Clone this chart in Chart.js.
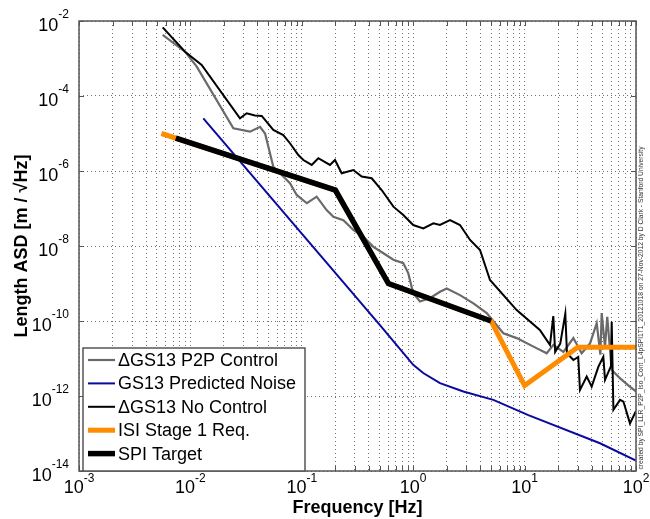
<!DOCTYPE html>
<html>
<head>
<meta charset="utf-8">
<script src="https://cdn.jsdelivr.net/npm/chart.js@4.4.1/dist/chart.umd.min.js"></script>
<style>
  html, body { margin: 0; padding: 0; background: #fff; }
  #wrap { width: 650px; height: 519px; position: relative; }
</style>
</head>
<body>
<div id="wrap"><canvas id="asd-chart"></canvas></div>
<script>
// values: frequency [Hz] and length ASD [m/rtHz]
const p2pFreq = [0.00564, 0.00895, 0.0114, 0.0243, 0.0343, 0.0422, 0.0468, 0.0555, 0.0682, 0.0783, 0.09, 0.111, 0.136, 0.167, 0.192, 0.236, 0.29, 0.356, 0.439, 0.54, 0.664, 0.815, 0.904, 1.0, 1.15, 1.42, 1.74, 2.0, 2.63, 3.47, 4.57, 6.44, 8.5, 12.9, 15.8, 18.1, 22.3, 27.4, 32.5, 38.6, 44.4, 47.9, 49.2, 52.7, 55.2, 60.5, 72, 88, 100];
const p2pAsd = [4.24e-3, 1.52e-3, 6.05e-4, 1.38e-5, 1.12e-5, 1.51e-5, 1.0e-5, 1.3e-6, 7.1e-7, 4.7e-7, 2.3e-7, 1.38e-7, 2.07e-7, 9.1e-8, 6.0e-8, 4.9e-8, 2.7e-8, 1.78e-8, 9.5e-9, 6.4e-9, 4.3e-9, 3.5e-9, 1.86e-9, 5.5e-10, 3.3e-10, 4.1e-10, 6.0e-10, 7.4e-10, 4.9e-10, 2.95e-10, 1.62e-10, 4.7e-11, 3.5e-11, 1.86e-11, 1.38e-11, 2.3e-11, 1.5e-11, 3.5e-11, 1.38e-11, 2.5e-11, 8.7e-11, 1.26e-11, 1.62e-10, 2.0e-11, 1.3e-10, 4.9e-12, 2.95e-12, 1.78e-12, 1.32e-12];

const gs13Freq = [0.01306, 0.503, 1.0, 1.23, 1.74, 2.82, 5.24, 10.8, 47.5, 100];
const gs13Asd = [2.54e-5, 7.8e-11, 6.8e-12, 4.1e-12, 2.2e-12, 1.32e-12, 7.9e-13, 3.1e-13, 5.5e-14, 1.9e-14];

const noCtrlFreq = [0.00564, 0.00895, 0.01262, 0.02786, 0.032, 0.038, 0.0437, 0.0555, 0.0682, 0.0783, 0.0931, 0.1033, 0.1227, 0.1406, 0.179, 0.1986, 0.228, 0.29, 0.345, 0.424, 0.521, 0.664, 0.815, 1.0, 1.233, 1.517, 1.738, 2.14, 2.63, 3.24, 3.98, 4.89, 8.49, 13.7, 15.8, 16.9, 18.1, 18.8, 20.9, 23.2, 24.0, 27.4, 30.3, 31.4, 36.1, 40.0, 45.9, 50.9, 52.7, 59.6, 60.5, 62.7, 71.9, 77.1, 88.3, 100];
const noCtrlAsd = [6.79e-3, 1.52e-3, 6.71e-4, 2.54e-5, 3.46e-5, 3.02e-5, 2.95e-5, 1.24e-5, 9.1e-6, 5.5e-6, 2.67e-6, 1.96e-6, 1.45e-6, 2.19e-6, 1.45e-6, 1.96e-6, 8.7e-7, 1.06e-6, 7.1e-7, 6.4e-7, 3.11e-7, 1.12e-7, 6.7e-8, 3.63e-8, 2.95e-8, 4.03e-8, 3.63e-8, 4.9e-8, 3.63e-8, 1.45e-8, 7.8e-9, 1.24e-9, 1.96e-10, 5.75e-11, 3.1e-11, 2.3e-11, 1.35e-10, 1.5e-11, 2.5e-11, 1.58e-10, 1.38e-11, 9.1e-12, 1.1e-11, 1.45e-12, 3.3e-12, 1.78e-12, 6.0e-12, 1.12e-11, 2.7e-12, 6.3e-12, 9.5e-11, 4.3e-13, 7.9e-13, 7.1e-13, 1.86e-13, 4.0e-13];

const isiFreq = [0.0055, 0.2, 0.6, 5, 10, 30, 100];
const isiAsd = [1e-5, 3.1e-7, 1e-9, 1e-10, 1.9e-12, 2e-11, 2e-11];

const spiFreq = [0.0074, 0.2, 0.6, 5];
const spiAsd = [7.5e-6, 3.1e-7, 1e-9, 1e-10];

const xExponents = [-3, -2, -1, 0, 1, 2];
const yExponents = [-14, -12, -10, -8, -6, -4, -2];
const minorSteps = [1, 2, 3, 4, 5, 6, 7, 8, 9];

const xTitle = 'Frequency [Hz]';
const yTitle = 'Length ASD [m / \u221AHz]';
const creditText = 'created by SPI_LLR_P2P_Iso_Cont_L4pSPI1T1_20121018 on 27-Nov-2012 by D Clark - Stanford University';

const FONT = '"Liberation Sans", Arial, Helvetica, sans-serif';

function pts(xs, ys) {
  return xs.map((x, i) => ({ x: x, y: ys[i] }));
}

// x gridlines on every 1..9 x 10^n, y gridlines on the labelled decades only
const xGridVals = [];
xExponents.forEach(e => {
  minorSteps.forEach(m => {
    const v = m * Math.pow(10, e);
    if (v <= 100 * 1.0001) xGridVals.push(v);
  });
});
const yGridVals = yExponents.map(e => Math.pow(10, e));

function drawPower(ctx, exp, x, yBase, ySup, align) {
  const sup = String(exp);
  ctx.font = '18px ' + FONT;
  const wb = ctx.measureText('10').width;
  ctx.font = '12px ' + FONT;
  const ws = ctx.measureText(sup).width;
  let start = align === 'center' ? x - (wb + ws) / 2 : x - (wb + ws);
  ctx.textAlign = 'left';
  ctx.textBaseline = 'middle';
  ctx.font = '18px ' + FONT;
  ctx.fillText('10', start, yBase);
  ctx.font = '12px ' + FONT;
  ctx.fillText(sup, start + wb, ySup);
}

const matlabAxes = {
  id: 'matlabAxes',
  afterDraw(chart) {
    const ctx = chart.ctx;
    const a = chart.chartArea;
    const xs = chart.scales.x, ys = chart.scales.y;
    ctx.save();

    // axes box and inward ticks
    ctx.strokeStyle = '#555';
    ctx.lineWidth = 1.5;
    ctx.strokeRect(a.left, a.top, a.right - a.left, a.bottom - a.top);
    ctx.lineWidth = 1;
    ctx.beginPath();
    xGridVals.forEach(v => {
      const px = Math.round(xs.getPixelForValue(v)) + 0.5;
      ctx.moveTo(px, a.bottom); ctx.lineTo(px, a.bottom - 5);
      ctx.moveTo(px, a.top); ctx.lineTo(px, a.top + 5);
    });
    yGridVals.forEach(v => {
      const py = Math.round(ys.getPixelForValue(v)) + 0.5;
      ctx.moveTo(a.left, py); ctx.lineTo(a.left + 5, py);
      ctx.moveTo(a.right, py); ctx.lineTo(a.right - 5, py);
    });
    ctx.stroke();

    // tick labels
    ctx.fillStyle = '#000';
    xExponents.forEach(e => {
      const px = xs.getPixelForValue(Math.pow(10, e));
      drawPower(ctx, e, px, a.bottom + 17, a.bottom + 8, 'center');
    });
    yExponents.forEach(e => {
      const py = ys.getPixelForValue(Math.pow(10, e));
      drawPower(ctx, e, a.left - 10, py + 5, py - 6, 'right');
    });

    // axis titles
    ctx.font = 'bold 18px ' + FONT;
    ctx.textAlign = 'center';
    ctx.textBaseline = 'middle';
    ctx.fillText(xTitle, (a.left + a.right) / 2, a.bottom + 37);
    ctx.save();
    ctx.translate(22, (a.top + a.bottom) / 2);
    ctx.rotate(-Math.PI / 2);
    ctx.fillText(yTitle, 0, 0);
    ctx.restore();

    // legend box in the lower left corner
    const lx = a.left + 4, ly = 348, lw = 222, lh = a.bottom - 348;
    ctx.fillStyle = '#fff';
    ctx.fillRect(lx, ly, lw, lh);
    ctx.strokeStyle = '#555';
    ctx.lineWidth = 1.5;
    ctx.strokeRect(lx, ly, lw, lh);
    ctx.font = '18px ' + FONT;
    ctx.textAlign = 'left';
    chart.data.datasets.forEach((ds, i) => {
      const cy = ly + 12 + i * 23.4;
      ctx.strokeStyle = ds.borderColor;
      ctx.lineWidth = ds.borderWidth;
      ctx.beginPath();
      ctx.moveTo(lx + 5, cy); ctx.lineTo(lx + 32, cy);
      ctx.stroke();
      ctx.fillStyle = '#000';
      ctx.fillText(ds.label, lx + 35, cy + 1);
    });

    // small rotated credit line on the right edge
    ctx.save();
    ctx.translate(641, (a.top + a.bottom) / 2 + 62);
    ctx.rotate(-Math.PI / 2);
    ctx.font = '6.5px ' + FONT;
    const w = ctx.measureText(creditText).width;
    ctx.scale(323 / w, 1);
    ctx.fillStyle = '#333';
    ctx.textAlign = 'center';
    ctx.fillText(creditText, 0, 0);
    ctx.restore();

    ctx.restore();
  }
};

const ctx = document.getElementById('asd-chart').getContext('2d');

new Chart(ctx, {
  type: 'line',
  data: {
    datasets: [
      { label: '\u0394GS13 P2P Control', data: pts(p2pFreq, p2pAsd), borderColor: '#6a6a6a', borderWidth: 2.2, order: 5 },
      { label: 'GS13 Predicted Noise', data: pts(gs13Freq, gs13Asd), borderColor: '#0a0aa0', borderWidth: 2, order: 4 },
      { label: '\u0394GS13 No Control', data: pts(noCtrlFreq, noCtrlAsd), borderColor: '#000000', borderWidth: 2, order: 3 },
      { label: 'ISI Stage 1 Req.', data: pts(isiFreq, isiAsd), borderColor: '#ff8c00', borderWidth: 5, order: 2 },
      { label: 'SPI Target', data: pts(spiFreq, spiAsd), borderColor: '#000000', borderWidth: 5.5, order: 1 }
    ]
  },
  options: {
    responsive: true,
    maintainAspectRatio: false,
    animation: false,
    parsing: true,
    layout: { padding: { top: 21, right: 14, left: 0, bottom: 0 } },
    elements: {
      point: { radius: 0, hoverRadius: 0 },
      line: { tension: 0, fill: false, borderJoinStyle: 'miter' }
    },
    plugins: {
      legend: { display: false },
      tooltip: { enabled: false }
    },
    scales: {
      x: {
        type: 'logarithmic',
        min: 1e-3,
        max: 100,
        afterBuildTicks: s => { s.ticks = xGridVals.map(v => ({ value: v })); },
        afterFit: s => { s.height = 48; },
        ticks: { display: false },
        grid: { color: 'rgba(0,0,0,0.55)', lineWidth: 1, drawTicks: false },
        border: { display: false, dash: [1, 3] }
      },
      y: {
        type: 'logarithmic',
        min: 1e-14,
        max: 1e-2,
        afterBuildTicks: s => { s.ticks = yGridVals.map(v => ({ value: v })); },
        afterFit: s => { s.width = 79; },
        ticks: { display: false },
        grid: { color: 'rgba(0,0,0,0.55)', lineWidth: 1, drawTicks: false },
        border: { display: false, dash: [1, 3] }
      }
    }
  },
  plugins: [matlabAxes]
});
</script>
</body>
</html>
